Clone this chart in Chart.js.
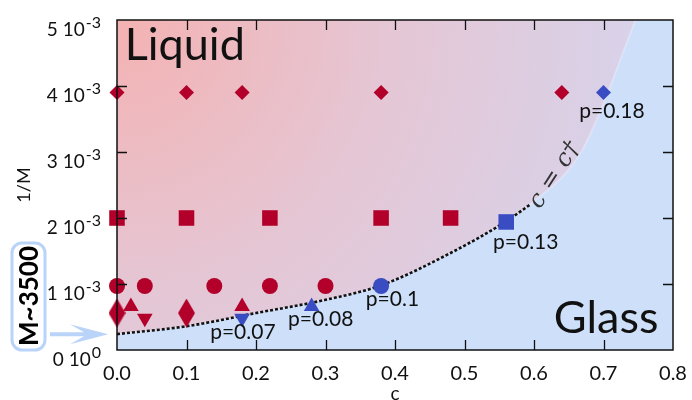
<!DOCTYPE html>
<html>
<head>
<meta charset="utf-8">
<script src="https://cdn.jsdelivr.net/npm/chart.js@4.4.1/dist/chart.umd.min.js"></script>
<style>
  html, body { margin: 0; padding: 0; background: #fff; }
  #wrap { width: 692px; height: 400px; position: relative; }
</style>
</head>
<body>
<div id="wrap"><canvas id="PhaseChart"></canvas></div>
<script>
// data, x = c, y = 1/M
const redDiamondC = [0, 0.1, 0.18, 0.38, 0.64];
const redDiamondY = [0.0039, 0.0039, 0.0039, 0.0039, 0.0039];
const blueDiamondC = [0.70];
const blueDiamondY = [0.0039];

const redSquareC = [0, 0.1, 0.22, 0.38, 0.48];
const redSquareY = [0.002, 0.002, 0.002, 0.002, 0.002];
const blueSquareC = [0.56];
const blueSquareY = [0.00194];

const redCircleC = [0, 0.04, 0.14, 0.22, 0.30];
const redCircleY = [0.00097, 0.00097, 0.00097, 0.00097, 0.00097];
const blueCircleC = [0.38];
const blueCircleY = [0.00097];

const redTallC = [0, 0.1];
const redTallY = [0.00056, 0.00056];
const redUpC = [0.02, 0.18];
const redUpY = [0.00066, 0.00066];
const redDownC = [0.04];
const redDownY = [0.00048];
const blueDownC = [0.18];
const blueDownY = [0.00048];
const blueUpC = [0.28];
const blueUpY = [0.00066];

// c = c† boundary (dotted part is the first 8 points)
const boundaryC = [0, 0.1, 0.2, 0.3, 0.38, 0.48, 0.56, 0.594, 0.668, 0.71, 0.724, 0.746];
const boundaryY = [0.00024, 0.00036, 0.00056, 0.00076, 0.00098, 0.00147, 0.00195, 0.0022, 0.003, 0.004, 0.00439, 0.005];
const dottedCount = 8;

// axis ticks
const xTicks = [0, 0.1, 0.2, 0.3, 0.4, 0.5, 0.6, 0.7, 0.8];
const yTicks = [0, 1, 2, 3, 4, 5];

// text labels
const pLabels = ['p=0.07', 'p=0.08', 'p=0.1', 'p=0.13', 'p=0.18'];
const pLabelC = [0.134, 0.246, 0.358, 0.541, 0.665];
const pLabelY = [0.00027, 0.00047, 0.00077, 0.00164, 0.00362];

const RED = '#b3002b';
const BLUE = '#3a4cc2';
const FONT = 'Lato';

function pts(cs, ys) {
  return cs.map((c, i) => ({ x: c, y: ys[i] }));
}

function tallDiamond(color) {
  const cv = document.createElement('canvas');
  cv.width = 17; cv.height = 29;
  const g = cv.getContext('2d');
  g.fillStyle = color;
  g.beginPath();
  g.moveTo(8.5, 0); g.lineTo(17, 14.5); g.lineTo(8.5, 29); g.lineTo(0, 14.5);
  g.closePath();
  g.fill();
  return cv;
}

function marker(cs, ys, color, style, radius, rotation) {
  return {
    data: pts(cs, ys),
    showLine: false,
    pointStyle: style,
    pointRadius: radius,
    pointRotation: rotation || 0,
    pointBackgroundColor: color,
    pointBorderColor: color,
    pointBorderWidth: 0,
    clip: false,
    order: 0
  };
}

const ctx = document.getElementById('PhaseChart').getContext('2d');

// background + decorations
const decor = {
  id: 'decor',
  beforeDraw(chart) {
    const a = chart.chartArea;
    const c = chart.ctx;
    c.save();
    c.fillStyle = '#cddff9';
    c.fillRect(a.left, a.top, a.right - a.left, a.bottom - a.top);
    c.restore();
  },
  afterDraw(chart) {
    const a = chart.chartArea;
    const c = chart.ctx;
    const xs = chart.scales.x, ys = chart.scales.y;
    c.save();

    // frame
    c.strokeStyle = '#111';
    c.lineWidth = 1.5;
    c.strokeRect(a.left, a.top, a.right - a.left, a.bottom - a.top);

    // inward ticks
    c.lineWidth = 1.3;
    c.beginPath();
    xTicks.slice(1, -1).forEach(v => {
      const px = Math.round(xs.getPixelForValue(v)) + 0.5;
      c.moveTo(px, a.bottom); c.lineTo(px, a.bottom - 10);
      c.moveTo(px, a.top); c.lineTo(px, a.top + 10);
    });
    yTicks.slice(1, -1).forEach(v => {
      const py = Math.round(ys.getPixelForValue(v / 1000)) + 0.5;
      c.moveTo(a.left, py); c.lineTo(a.left + 10, py);
      c.moveTo(a.right, py); c.lineTo(a.right - 10, py);
    });
    c.stroke();

    // y tick labels with superscript
    c.fillStyle = '#111';
    c.textAlign = 'right';
    c.textBaseline = 'alphabetic';
    yTicks.forEach(v => {
      const py = ys.getPixelForValue(v / 1000);
      const exp = v === 0 ? '0' : '-3';
      c.font = '16px ' + FONT;
      c.fillText(exp, 101, py + 8);
      const w = c.measureText(exp).width;
      c.font = '19px ' + FONT;
      c.fillText(v + ' 10', 101 - w - 1, py + 16);
    });

    // y axis title
    c.save();
    c.translate(24, (a.top + a.bottom) / 2);
    c.rotate(-Math.PI / 2);
    c.font = '18px ' + FONT;
    c.textAlign = 'center';
    c.textBaseline = 'middle';
    c.fillText('1/M', 0, 0);
    c.restore();

    // Liquid / Glass
    c.font = '45px ' + FONT;
    c.textAlign = 'left';
    c.fillText('Liquid', xs.getPixelForValue(0.011), ys.getPixelForValue(0.00439));
    c.textAlign = 'right';
    c.fillText('Glass', xs.getPixelForValue(0.779), ys.getPixelForValue(0.00026));

    // p labels
    c.font = '21px ' + FONT;
    c.textAlign = 'left';
    c.textBaseline = 'middle';
    pLabels.forEach((t, i) => {
      c.fillText(t, xs.getPixelForValue(pLabelC[i]), ys.getPixelForValue(pLabelY[i]));
    });

    // c = c† along the boundary
    c.save();
    c.translate(xs.getPixelForValue(0.63), ys.getPixelForValue(0.00265));
    c.rotate(-57 * Math.PI / 180);
    c.font = 'italic 24px "DejaVu Serif"';
    c.fillStyle = '#333';
    c.textAlign = 'center';
    c.textBaseline = 'middle';
    c.fillText('c = c\u2020', 0, 0);
    c.restore();

    // M~3500 box
    c.strokeStyle = '#b9d4f8';
    c.lineWidth = 3;
    c.fillStyle = '#fff';
    c.beginPath();
    c.roundRect(12, 243, 33, 107, 10);
    c.fill();
    c.stroke();
    c.save();
    c.translate(29, 296);
    c.rotate(-Math.PI / 2);
    c.font = 'bold 26px ' + FONT;
    c.fillStyle = '#000';
    c.textAlign = 'center';
    c.textBaseline = 'middle';
    c.fillText('M~3500', 0, 1);
    c.restore();

    // arrow pointing at the boundary start
    const ay = ys.getPixelForValue(boundaryY[0]);
    c.fillStyle = '#b9d4f8';
    c.beginPath();
    c.moveTo(50, ay - 2);
    c.lineTo(84, ay - 2);
    c.lineTo(70, ay - 10);
    c.lineTo(108, ay);
    c.lineTo(70, ay + 10);
    c.lineTo(84, ay + 2);
    c.lineTo(50, ay + 2);
    c.closePath();
    c.fill();

    c.restore();
  }
};

const config = {
  type: 'line',
  data: {
    datasets: [
      {
        // liquid region above the boundary
        data: pts(boundaryC, boundaryY),
        fill: 'end',
        cubicInterpolationMode: 'monotone',
        pointRadius: 0,
        borderColor: 'rgba(236,236,252,0.5)',
        borderWidth: 2,
        backgroundColor: function(context) {
          const a = context.chart.chartArea;
          if (!a) return '#ead0d8';
          const g = context.chart.ctx.createRadialGradient(a.left, a.top, 0, a.left, a.top, 600);
          g.addColorStop(0, '#f4b2b2');
          g.addColorStop(0.45, '#e5c6d4');
          g.addColorStop(1, '#d4d6f0');
          return g;
        },
        order: 10
      },
      {
        data: pts(boundaryC.slice(0, dottedCount), boundaryY.slice(0, dottedCount)),
        fill: false,
        cubicInterpolationMode: 'monotone',
        pointRadius: 0,
        borderColor: '#111',
        borderWidth: 2.6,
        borderDash: [3, 2],
        order: 5
      },
      marker(redDiamondC, redDiamondY, RED, 'rectRot', 7.5),
      marker(blueDiamondC, blueDiamondY, BLUE, 'rectRot', 7.5),
      marker(redSquareC, redSquareY, RED, 'rect', 11),
      marker(blueSquareC, blueSquareY, BLUE, 'rect', 11),
      marker(redCircleC, redCircleY, RED, 'circle', 8),
      marker(blueCircleC, blueCircleY, BLUE, 'circle', 8),
      marker(redTallC, redTallY, RED, tallDiamond(RED), 9),
      marker(redUpC, redUpY, RED, 'triangle', 9),
      marker(redDownC, redDownY, RED, 'triangle', 9, 180),
      marker(blueDownC, blueDownY, BLUE, 'triangle', 9, 180),
      marker(blueUpC, blueUpY, BLUE, 'triangle', 9)
    ]
  },
  options: {
    responsive: true,
    maintainAspectRatio: false,
    animation: false,
    events: [],
    layout: { padding: { top: 20, right: 19, left: 0, bottom: 0 } },
    plugins: { legend: { display: false }, tooltip: { enabled: false } },
    scales: {
      x: {
        type: 'linear',
        min: 0,
        max: 0.8,
        afterFit: s => { s.height = 50; },
        afterBuildTicks: s => { s.ticks = xTicks.map(v => ({ value: v })); },
        grid: { display: false },
        border: { display: false },
        ticks: {
          padding: 4,
          color: '#111',
          font: { family: FONT, size: 20 },
          callback: v => v.toFixed(1)
        },
        title: {
          display: true,
          text: 'c',
          color: '#111',
          font: { family: FONT, size: 19 },
          padding: { top: 0, bottom: -5 }
        }
      },
      y: {
        type: 'linear',
        min: 0,
        max: 0.005,
        afterFit: s => { s.width = 117; },
        grid: { display: false },
        border: { display: false },
        ticks: { display: false }
      }
    }
  },
  plugins: [decor]
};

const phaseChart = new Chart(ctx, config);
</script>
</body>
</html>
